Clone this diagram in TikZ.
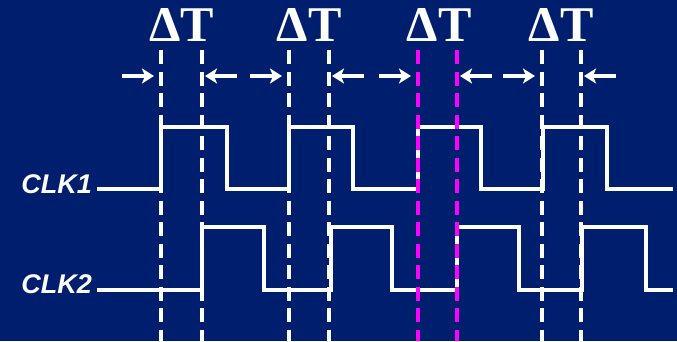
\documentclass[tikz,border=0pt]{standalone}
\usepackage{fontspec}
\setmainfont{Liberation Serif}
\newfontfamily\clkfont{Liberation Sans}
\usetikzlibrary{arrows.meta}
\definecolor{bgblue}{RGB}{0,30,110}
\definecolor{mag}{RGB}{255,0,255}
\tikzset{
  wave/.style={draw=white,line width=4.5pt},
  guide/.style={line width=4pt,dash pattern=on 14pt off 7.5pt},
  gap/.style={draw=white,line width=3.5pt,-{Stealth[length=12pt,width=15pt,inset=3pt]}},
  dtlabel/.style={text=white,font=\bfseries\fontsize{50}{50}\selectfont,anchor=base,inner sep=0pt},
  clklabel/.style={text=white,font=\clkfont\bfseries\itshape\fontsize{27}{27}\selectfont,anchor=base east,inner sep=0pt}
}
\begin{document}
\begin{tikzpicture}[x=1pt,y=-1pt]
\fill[bgblue] (0,0) rectangle (677,341);
\useasboundingbox (0,0) rectangle (677,341);
% labels
\node[clklabel] (clk1) at (92,193) {CLK1};
\node[clklabel] (clk2) at (92,293) {CLK2};
\node[dtlabel] (dt1) at (181.5,41) {ΔT};
\node[dtlabel] (dt2) at (309,41) {ΔT};
\node[dtlabel] (dt3) at (439,41) {ΔT};
\node[dtlabel] (dt4) at (561,41) {ΔT};
% waveforms
\draw[wave] (97,189) -- (161,189) -- (161,127) -- (227,127) -- (227,189) -- (289,189) -- (289,127) -- (353,127) -- (353,189) -- (418,189) -- (418,127) -- (481,127) -- (481,189) -- (543,189) -- (543,127) -- (607,127) -- (607,189) -- (673,189);
\draw[wave] (97,290) -- (202,290) -- (202,227) -- (264,227) -- (264,290) -- (331,290) -- (331,227) -- (392,227) -- (392,290) -- (457,290) -- (457,227) -- (519,227) -- (519,290) -- (582,290) -- (582,227) -- (646,227) -- (646,290) -- (673,290);
% dashed guide lines
\foreach \n/\x/\c in {a/161/white,b/202/white,c/289/white,d/329/white,e/418/mag,f/457/mag,g/542/white,h/581/white}{
  \coordinate (\n t) at (\x,50);
  \coordinate (\n b) at (\x,341);
  \draw[guide,draw=\c] (\n t) -- (\n b);
}
% arrows
\foreach \l/\r in {161/202,289/329,418/457,542/581}{
  \coordinate (rs\l) at ({\l-39},76);
  \coordinate (re\l) at ({\l-7},76);
  \coordinate (ls\l) at ({\r+35},76);
  \coordinate (le\l) at ({\r+3},76);
  \draw[gap] (rs\l) -- (re\l);
  \draw[gap] (ls\l) -- (le\l);
}
\end{tikzpicture}
\end{document}
